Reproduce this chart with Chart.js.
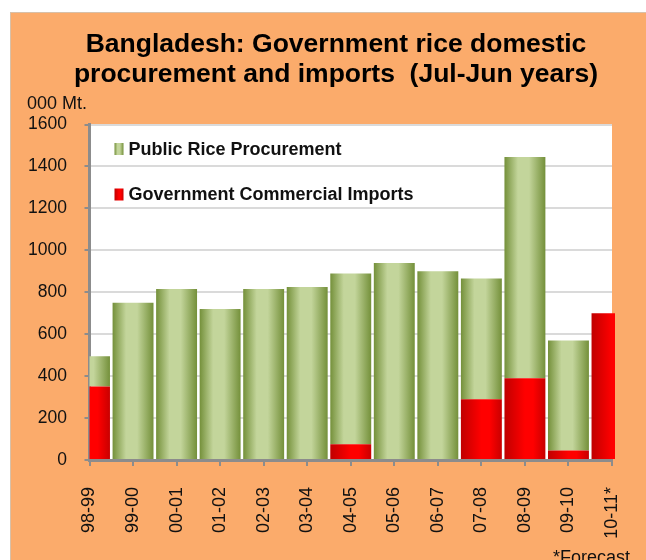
<!DOCTYPE html>
<html>
<head>
<meta charset="utf-8">
<script src="https://cdn.jsdelivr.net/npm/chart.js@4.4.1/dist/chart.umd.min.js"></script>
<style>
  html, body { margin: 0; padding: 0; background: #fff; }
  canvas { display: block; }
</style>
</head>
<body>
<canvas id="rice-chart" width="646" height="560"></canvas>
<script>
const years = ['98-99', '99-00', '00-01', '01-02', '02-03', '03-04', '04-05', '05-06', '06-07', '07-08', '08-09', '09-10', '10-11*'];
// thousand metric tons
const imports = [350, 0, 0, 0, 0, 0, 75, 0, 0, 290, 390, 45, 700];
const procurement = [145, 750, 815, 720, 815, 825, 815, 940, 900, 575, 1055, 525, 0];
const yTicks = [0, 200, 400, 600, 800, 1000, 1200, 1400, 1600];
const titleLines = ['Bangladesh: Government rice domestic', 'procurement and imports  (Jul-Jun years)'];

const greenStops = [[0, '#74903a'], [0.33, '#c3d59b'], [0.6, '#c3d59b'], [1, '#74903a']];
const redStops = [[0, '#c00000'], [0.5, '#ff0000'], [0.7, '#ff0000'], [1, '#c80000']];
const barPct = 0.94;
const font = '"Liberation Sans", Arial, sans-serif';

Chart.defaults.font.family = font;
Chart.defaults.color = '#111';

// horizontal "cylinder" shading, one gradient per bar
const barFill = stops => ctx => {
    const chart = ctx.chart;
    const x = chart.scales.x;
    if (!chart.chartArea || !x) return stops[1][1];
    const cx = x.getPixelForValue(ctx.dataIndex);
    const half = x.width / (years.length - 1) * barPct / 2;
    const g = chart.ctx.createLinearGradient(cx - half, 0, cx + half, 0);
    stops.forEach(([o, c]) => g.addColorStop(o, c));
    return g;
};

const frame = {
    id: 'frame',
    beforeDraw(chart) {
        const { ctx, chartArea: a } = chart;
        ctx.save();
        ctx.fillStyle = '#fff';
        ctx.fillRect(0, 0, chart.width, chart.height);
        ctx.fillStyle = '#fbab6b';
        ctx.fillRect(10, 12, chart.width, chart.height);
        ctx.strokeStyle = '#d8c0a8';
        ctx.lineWidth = 1;
        ctx.strokeRect(10.5, 12.5, chart.width, chart.height);
        ctx.fillStyle = '#fff';
        ctx.fillRect(a.left, a.top, a.right - a.left, a.bottom - a.top);
        ctx.restore();
    }
};

// title (centred on the orange panel), legend inside the plot, unit and footnote
const notes = {
    id: 'notes',
    afterDatasetsDraw(chart) {
        const { ctx, chartArea: a } = chart;
        const rows = [chart.data.datasets[1], chart.data.datasets[0]];
        ctx.save();
        ctx.font = 'bold 18px ' + font;
        ctx.textBaseline = 'middle';
        rows.forEach((ds, i) => {
            const x = a.left + 25;
            const y = a.top + 24.5 + i * 45.5;
            const g = ctx.createLinearGradient(x, 0, x + 9, 0);
            ds.legendStops.forEach(([o, c]) => g.addColorStop(o, c));
            ctx.fillStyle = g;
            ctx.fillRect(x, y - 6, 9, 12);
            ctx.fillStyle = '#111';
            ctx.fillText(ds.label, x + 14, y + 1);
        });
        ctx.restore();
    },
    afterDraw(chart) {
        const ctx = chart.ctx;
        ctx.save();
        ctx.fillStyle = '#000';
        ctx.font = 'bold 26.5px ' + font;
        ctx.textAlign = 'center';
        ctx.textBaseline = 'middle';
        titleLines.forEach((t, i) => ctx.fillText(t, 336, 44.5 + i * 30));
        ctx.fillStyle = '#111';
        ctx.font = '18px ' + font;
        ctx.textAlign = 'left';
        ctx.fillText('000 Mt.', 27, 104);
        ctx.textBaseline = 'alphabetic';
        ctx.fillText('*Forecast', 553, 563);
        ctx.restore();
    }
};

new Chart(document.getElementById('rice-chart'), {
    type: 'bar',
    data: {
        labels: years,
        datasets: [{
            label: 'Government Commercial Imports',
            data: imports,
            backgroundColor: barFill(redStops),
            legendStops: redStops
        }, {
            label: 'Public Rice Procurement',
            data: procurement,
            backgroundColor: barFill(greenStops),
            legendStops: greenStops
        }]
    },
    options: {
        responsive: false,
        animation: false,
        devicePixelRatio: 1,
        borderWidth: 0,
        datasets: {
            bar: {
                barPercentage: barPct,
                categoryPercentage: 1,
                clip: { left: 0, top: false, right: 3, bottom: 0 }
            }
        },
        layout: { padding: { top: 124.5, left: 27, right: 34, bottom: 0 } },
        plugins: {
            legend: { display: false },
            tooltip: { enabled: false },
            title: { display: false }
        },
        scales: {
            x: {
                stacked: true,
                offset: false,
                grid: { offset: false, drawOnChartArea: false, tickLength: 6, color: '#8c8c8c', lineWidth: 2 },
                border: { color: '#8c8c8c', width: 3 },
                ticks: { autoSkip: false, minRotation: 90, maxRotation: 90, padding: 21, font: { size: 18 } },
                afterFit: s => {
                    s.height = 100;
                    s.paddingLeft = 0;
                    s.paddingRight = 0;
                }
            },
            y: {
                stacked: true,
                min: yTicks[0],
                max: yTicks[yTicks.length - 1],
                afterBuildTicks: s => { s.ticks = yTicks.map(v => ({ value: v })); },
                grid: { color: '#dadada', lineWidth: 2, tickColor: '#8c8c8c', tickLength: 5 },
                border: { color: '#8c8c8c', width: 3 },
                ticks: { padding: 17.5, font: { size: 17.5 }, callback: v => String(v) },
                afterFit: s => { s.width = 62.5; }
            }
        }
    },
    plugins: [frame, notes]
});
</script>
</body>
</html>
